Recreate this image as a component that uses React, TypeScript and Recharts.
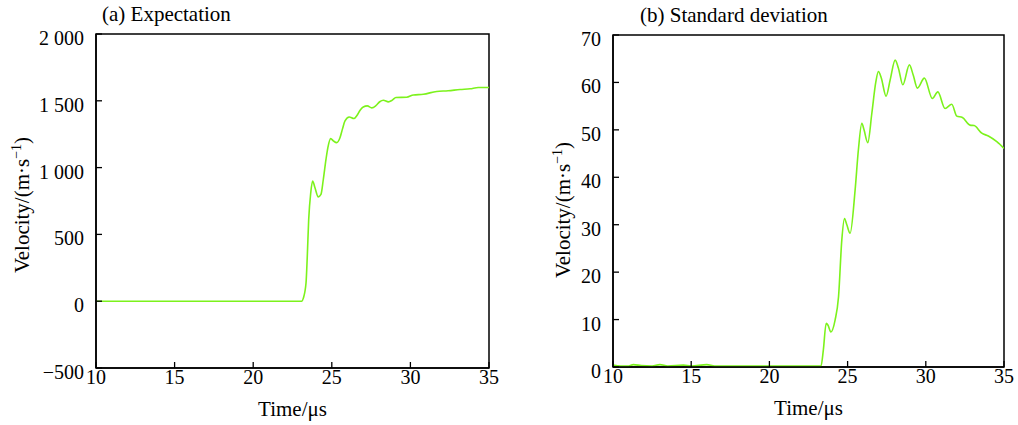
import React from 'react';
import { LineChart, Line, XAxis, YAxis, Label, ReferenceArea } from 'recharts';

// ---------- Data ----------
const expTime = [10, 23.1, 23.19, 23.36, 23.44, 23.53, 23.66, 23.78, 23.93, 24.14, 24.31, 24.46, 24.63, 24.75, 24.93, 25.1, 25.31, 25.52, 25.68, 25.84, 26.11, 26.41, 26.6, 26.8, 27.0, 27.26, 27.54, 27.8, 28.05, 28.28, 28.6, 28.85, 29.08, 29.76, 30.19, 30.82, 31.67, 32.4, 33.16, 33.8, 34.32, 35];
const expVel = [0, 0, 23, 136, 335, 611, 811, 899, 849, 781, 799, 911, 1061, 1150, 1217, 1200, 1187, 1224, 1290, 1349, 1379, 1367, 1390, 1430, 1454, 1462, 1447, 1463, 1493, 1504, 1492, 1505, 1525, 1527, 1544, 1549, 1570, 1575, 1585, 1590, 1600, 1600];

const stdTime = [10, 10.5, 11, 11.3, 11.8, 12.5, 13, 13.5, 14.5, 15, 16, 16.5, 18, 20, 23.3, 23.45, 23.63, 23.75, 23.93, 24.2, 24.42, 24.63, 24.8, 24.95, 25.16, 25.48, 25.69, 25.91, 26.05, 26.29, 26.55, 26.8, 26.97, 27.15, 27.46, 27.72, 28.04, 28.25, 28.53, 28.95, 29.2, 29.46, 29.91, 30.42, 30.77, 31.23, 31.66, 31.98, 32.34, 32.83, 33.09, 33.58, 34.0, 34.54, 35];
const stdVel = [0.4, 0.2, 0.2, 0.5, 0.3, 0.2, 0.5, 0.2, 0.4, 0.2, 0.5, 0.2, 0.2, 0.2, 0.2, 3.6, 9.2, 8.8, 7.4, 9.9, 14.8, 26.8, 31.3, 30, 28.2, 37.3, 45.8, 51.4, 50, 47.3, 53.5, 60, 62.3, 61, 57.1, 60.5, 64.7, 63, 59.5, 63.7, 61.5, 58.8, 60.9, 56.6, 58, 54.5, 55.4, 52.9, 52.6, 51, 50.9, 49.3, 48.7, 47.5, 46.1];

const timeTicks = [10, 15, 20, 25, 30, 35];
const timeTickLabels = ['10', '15', '20', '25', '30', '35'];
const expTicks = [-500, 0, 500, 1000, 1500, 2000];
const expTickLabels = ['\u2212500', '0', '500', '1 000', '1 500', '2 000'];
const stdTicks = [0, 10, 20, 30, 40, 50, 60, 70];
const stdTickLabels = ['0', '10', '20', '30', '40', '50', '60', '70'];

const expData = expTime.map((t, i) => ({ t, v: expVel[i] }));
const stdData = stdTime.map((t, i) => ({ t, v: stdVel[i] }));

const FONT = '"Liberation Serif", "Times New Roman", serif';
const LINE_COLOR = '#7cf21c';
const TICK_LEN = 6;

function makeXTick(labels: string[], ticks: number[], axisY: number) {
  return (props: any) => {
    const { x, payload } = props;
    const idx = ticks.indexOf(payload.value);
    return (
      <g>
        <line x1={x} x2={x} y1={axisY} y2={axisY - TICK_LEN} stroke="#000" strokeWidth={1.3} />
        <text x={x} y={axisY + 16} textAnchor="middle" fontFamily={FONT} fontSize={20} fill="#000">
          {idx >= 0 ? labels[idx] : payload.value}
        </text>
      </g>
    );
  };
}

function makeYTick(labels: string[], ticks: number[], axisX: number) {
  return (props: any) => {
    const { y, payload } = props;
    const idx = ticks.indexOf(payload.value);
    return (
      <g>
        <line x1={axisX} x2={axisX + TICK_LEN} y1={y} y2={y} stroke="#000" strokeWidth={1.3} />
        <text x={axisX - 12} y={y + 11} textAnchor="end" fontFamily={FONT} fontSize={20} fill="#000">
          {idx >= 0 ? labels[idx] : payload.value}
        </text>
      </g>
    );
  };
}

function yLabelAndTitle(dx: number, dy: number, title: string, titleDx: number) {
  return (props: any) => {
    const vb = props.viewBox || {};
    const axisX = vb.x + vb.width;
    const cx = axisX + dx;
    const cy = vb.y + vb.height / 2 + dy;
    return (
      <g>
        <text x={cx} y={cy} transform={`rotate(-90 ${cx} ${cy})`} textAnchor="middle" fontFamily={FONT} fontSize={21} fill="#000">
          Velocity/(m·s
          <tspan dy={-8} fontSize={14}>−1</tspan>
          <tspan dy={8}>)</tspan>
        </text>
        <text x={axisX + titleDx} y={vb.y - 13} textAnchor="start" fontFamily={FONT} fontSize={21} fill="#000">
          {title}
        </text>
      </g>
    );
  };
}

function xLabel() {
  return (props: any) => {
    const vb = props.viewBox || {};
    return (
      <text x={vb.x + vb.width / 2} y={vb.y + 48} textAnchor="middle" fontFamily={FONT} fontSize={21} fill="#000">
        Time/μs
      </text>
    );
  };
}

interface PanelProps {
  data: { t: number; v: number }[];
  yDomain: [number, number];
  yTicks: number[];
  yTickLabels: string[];
  title: string;
  titleDx: number;
  yLabelDx: number;
  yLabelDy: number;
  width: number;
  yAxisWidth: number;
  marginRight: number;
  marginTop: number;
  xAxisHeight: number;
}

function Panel(p: PanelProps) {
  const axisY = 425 - p.xAxisHeight;
  const axisX = p.yAxisWidth;
  return (
    <LineChart
      width={p.width}
      height={425}
      data={p.data}
      margin={{ top: p.marginTop, right: p.marginRight, bottom: 0, left: 0 }}
    >
      <XAxis
        dataKey="t"
        type="number"
        domain={[10, 35]}
        ticks={timeTicks}
        allowDataOverflow
        height={p.xAxisHeight}
        tickSize={0}
        tickMargin={0}
        tickLine={false}
        axisLine={{ stroke: '#000', strokeWidth: 1.5 }}
        tick={makeXTick(timeTickLabels, timeTicks, axisY)}
        interval={0}
      >
        <Label content={xLabel()} />
      </XAxis>
      <YAxis
        type="number"
        domain={p.yDomain}
        ticks={p.yTicks}
        allowDataOverflow
        width={p.yAxisWidth}
        tickSize={0}
        tickMargin={0}
        tickLine={false}
        axisLine={{ stroke: '#000', strokeWidth: 1.5 }}
        tick={makeYTick(p.yTickLabels, p.yTicks, axisX)}
        interval={0}
      >
        <Label content={yLabelAndTitle(p.yLabelDx, p.yLabelDy, p.title, p.titleDx)} />
      </YAxis>
      <Line
        type="monotone"
        dataKey="v"
        stroke={LINE_COLOR}
        strokeWidth={1.6}
        dot={false}
        isAnimationActive={false}
      />
      <ReferenceArea
        x1={10}
        x2={35}
        y1={p.yDomain[0]}
        y2={p.yDomain[1]}
        fill="none"
        fillOpacity={0}
        stroke="#000"
        strokeWidth={1.5}
        ifOverflow="visible"
      />
    </LineChart>
  );
}

export default function App() {
  return (
    <div style={{ position: 'absolute', left: 0, top: 0, width: 1018, height: 425, background: '#fff' }}>
      <div style={{ position: 'absolute', left: 0, top: 0 }}>
        <Panel
          data={expData}
          yDomain={[-500, 2000]}
          yTicks={expTicks}
          yTickLabels={expTickLabels}
          title="(a) Expectation"
          titleDx={6}
          yLabelDx={-67}
          yLabelDy={4}
          width={500}
          yAxisWidth={96}
          marginRight={11}
          marginTop={34}
          xAxisHeight={57}
        />
      </div>
      <div style={{ position: 'absolute', left: 510, top: 0 }}>
        <Panel
          data={stdData}
          yDomain={[0, 70]}
          yTicks={stdTicks}
          yTickLabels={stdTickLabels}
          title="(b) Standard deviation"
          titleDx={27}
          yLabelDx={-43}
          yLabelDy={9}
          width={508}
          yAxisWidth={103}
          marginRight={14}
          marginTop={35}
          xAxisHeight={58}
        />
      </div>
    </div>
  );
}
